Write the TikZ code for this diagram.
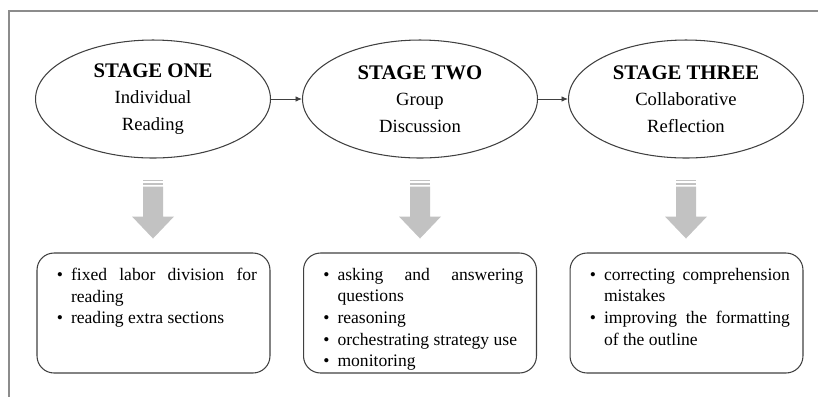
\documentclass[tikz,border=0pt]{standalone}
\usepackage{fontspec}
\setmainfont{Liberation Serif}
\usepackage{enumitem}
\usetikzlibrary{arrows.meta,shapes.geometric}
\definecolor{arrowgray}{rgb}{0.76, 0.76, 0.76}
\definecolor{framegray}{rgb}{0.55, 0.55, 0.55}
\definecolor{linegray}{rgb}{0.25, 0.25, 0.25}

\newcommand{\tasklist}[1]{\parbox[c][1.8cm][t]{4.14cm}{\fontsize{10}{12.3}\selectfont
    \begin{itemize}[leftmargin=0.42cm, labelsep=0.16cm, itemsep=0pt, topsep=0pt,
        parsep=0pt, partopsep=0pt, label=\textbullet]#1\end{itemize}}}

\begin{document}
\begin{tikzpicture}[x=0.02cm, y=-0.02cm,
        stage/.style={draw=linegray, line width=0.6pt, shape=ellipse, inner sep=0pt,
            minimum width=4.7cm, minimum height=2.36cm, align=center,
            font=\fontsize{10.6}{15}\selectfont},
        task/.style={draw=linegray, line width=0.6pt, rounded corners=0.34cm,
            inner xsep=0.26cm, inner ysep=0.3cm},
        link/.style={-{Latex[length=1.3mm, width=1.1mm]}, line width=0.5pt, draw=linegray}]
        \useasboundingbox (0,0) rectangle (818,397);

        % frame
        \draw[framegray, line width=1pt] (818,11) -- (9,11) -- (9,397);

        % stages
        \node[stage] (s1) at (153,99)
            {{\fontsize{11.8}{15}\selectfont\bfseries STAGE ONE}\\ Individual\\ Reading};
        \node[stage] (s2) at (420,99)
            {{\fontsize{11.8}{15}\selectfont\bfseries STAGE TWO}\\ Group\\ Discussion};
        \node[stage] (s3) at (686,99)
            {{\fontsize{11.8}{15}\selectfont\bfseries STAGE THREE}\\ Collaborative\\ Reflection};

        \draw[link] (s1) -- (s2);
        \draw[link] (s2) -- (s3);

        % activities
        \node[task] (b1) at (153.5,313) {\tasklist{
            \item fixed labor division for reading
            \item reading extra sections}};
        \node[task] (b2) at (420,313) {\tasklist{
            \item asking and answering questions
            \item reasoning
            \item orchestrating strategy use
            \item monitoring}};
        \node[task] (b3) at (686.5,313) {\tasklist{
            \item correcting comprehension mistakes
            \item improving the formatting of the outline}};

        % striped block arrows
        \foreach \s in {s1, s2, s3}
        {
            \begin{scope}[shift={(\s.south)}]
                \fill[arrowgray] (-10,21) rectangle (10,22.5);
                \fill[arrowgray] (-10,24) rectangle (10,26.5);
                \fill[arrowgray] (-10,28) -- (10,28) -- (10,58) -- (21,58)
                    -- (0,80) -- (-21,58) -- (-10,58) -- cycle;
            \end{scope}
        }

    \end{tikzpicture}
\end{document}
